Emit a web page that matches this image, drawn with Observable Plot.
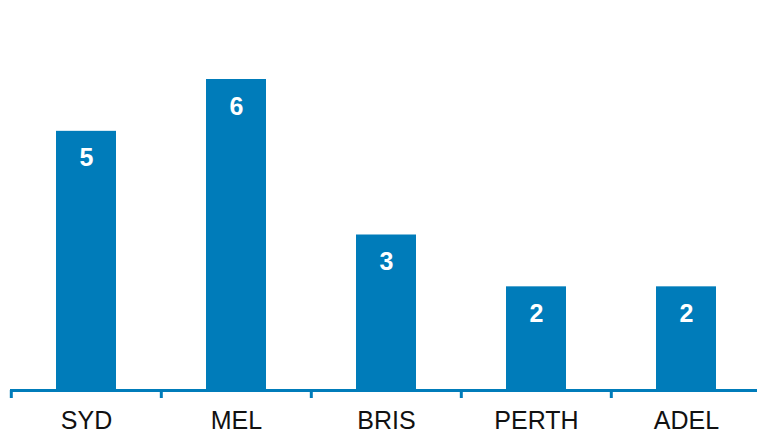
<!DOCTYPE html>
<html>
<head>
<meta charset="utf-8">
<script src="https://cdn.jsdelivr.net/npm/d3@7"></script>
<script src="https://cdn.jsdelivr.net/npm/@observablehq/plot@0.6"></script>
<style>
  html, body { margin: 0; padding: 0; background: #fff; overflow: hidden; }
  #chart svg { display: block; }
</style>
</head>
<body>
<div id="chart"></div>
<script>
const cities = ["SYD", "MEL", "BRIS", "PERTH", "ADEL"];
const counts = [5, 6, 3, 2, 2];

const data = cities.map((c, i) => ({city: c, value: counts[i]}));
const blue = "#007cba";
const xRange = [10, 762];
const bw = (xRange[1] - xRange[0]) / cities.length;

const chart = Plot.plot({
  width: 757,
  height: 433,
  marginTop: 79,
  marginBottom: 43,
  marginLeft: 10,
  marginRight: 0,
  style: {fontFamily: "Arial, 'Liberation Sans', sans-serif", background: "#fff"},
  x: {domain: cities, range: xRange, padding: 0.6, paddingOuter: 0.3, align: 0.5, label: null},
  y: {domain: [0, 6], axis: null},
  marks: [
    Plot.barY(data, {x: "city", y: "value", fill: blue}),
    Plot.ruleY([0], {stroke: blue, strokeWidth: 3}),
    Plot.axisX({
      tickSize: 8, dx: -bw / 2, stroke: blue, strokeWidth: 3, tickFormat: () => "", label: null
    }),
    Plot.axisX({
      tickSize: 0, tickPadding: 21, fontSize: 25, fill: "#111", label: null
    }),
    Plot.text(data, {
      x: "city", y: "value", text: d => String(d.value), dy: 27,
      fill: "white", fontSize: 25, fontWeight: "bold"
    })
  ]
});
document.getElementById("chart").appendChild(chart);
</script>
</body>
</html>
